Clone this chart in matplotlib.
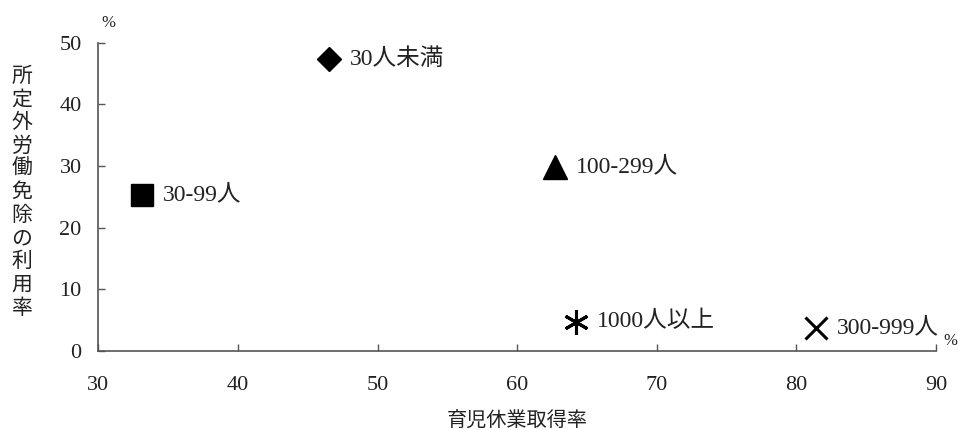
import matplotlib
matplotlib.use("Agg")
import matplotlib.pyplot as plt

# data
groups = ["30人未満", "30-99人", "100-299人", "300-999人", "1000人以上"]
leave_rate = [46.5, 33.1, 62.7, 81.4, 64.2]      # 育児休業取得率
exempt_rate = [47.4, 25.3, 29.8, 3.7, 4.7]       # 所定外労働免除の利用率

x_ticks = [30, 40, 50, 60, 70, 80, 90]
y_ticks = [0, 10, 20, 30, 40, 50]
x_title = "育児休業取得率"
y_title = "所定外労働免除の利用率"

# style
fonts = ["Liberation Serif", "Noto Sans CJK JP", "DejaVu Sans"]
plt.rcParams["font.family"] = fonts
markers = ["D", "s", "^", "x", (6, 2, 0)]
msizes = [12.5, 16, 17, 16, 18]
axis_col = "#555555"

fig = plt.figure(figsize=(9.58, 4.3), dpi=100)
ax = fig.add_axes([0.1026, 0.1844, 0.8744, 0.7163])

for gx, gy, name, m, ms in zip(leave_rate, exempt_rate, groups, markers, msizes):
    ax.plot(gx, gy, linestyle="none", marker=m, markersize=ms, color="black",
            markeredgewidth=2.2 if m in ("x", (6, 2, 0)) else 1)
    ax.annotate(name, (gx, gy), xytext=(15, 0), textcoords="offset points",
                va="center", ha="left", fontsize=17, color="#222222")

ax.set_xlim(x_ticks[0], x_ticks[-1])
ax.set_ylim(y_ticks[0], y_ticks[-1])
ax.set_xticks(x_ticks)
ax.set_yticks(y_ticks)
ax.tick_params(direction="in", length=5, width=1, color=axis_col,
               labelsize=16, labelcolor="#222222")
ax.tick_params(axis="x", pad=18)
ax.tick_params(axis="y", pad=12)

for side in ("top", "right"):
    ax.spines[side].set_visible(False)
for side in ("left", "bottom"):
    ax.spines[side].set_color(axis_col)
    ax.spines[side].set_linewidth(1.2)

ax.set_xlabel(x_title, fontsize=14.5, color="#222222", labelpad=12)
fig.text(0.023, 0.55, "\n".join(y_title), fontsize=15, color="#222222",
         ha="center", va="center", linespacing=1.28)

fig.text(0.113, 0.947, "%", fontsize=12, color="#222222", ha="center", va="center")
fig.text(0.992, 0.208, "%", fontsize=12, color="#222222", ha="center", va="center")

fig.savefig("out.png", dpi=100)
